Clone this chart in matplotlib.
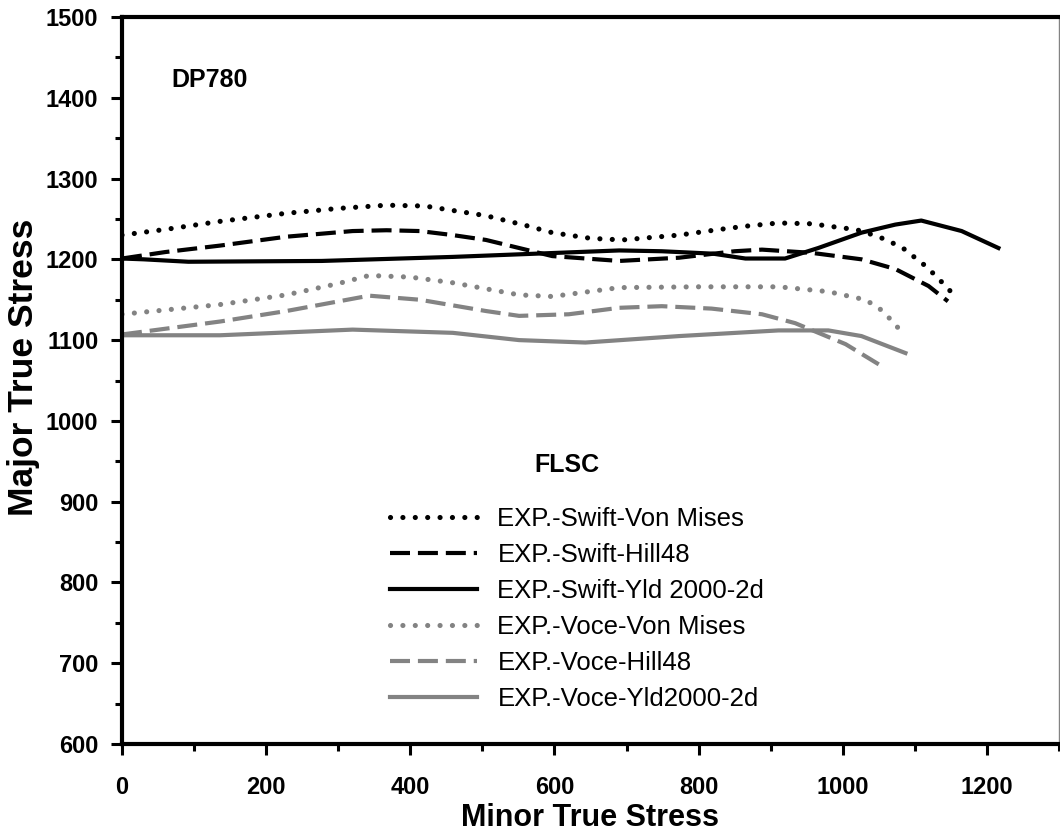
import numpy as np
import matplotlib
matplotlib.use("Agg")
import matplotlib.pyplot as plt
from matplotlib.ticker import MultipleLocator

plt.rcParams['font.family'] = ['Liberation Sans', 'DejaVu Sans']

# curves (minor stress, major stress)
swift_vm_x = [0, 60, 136, 228, 300, 367, 420, 505, 560, 597, 650, 694, 773, 829, 865, 911, 957, 998, 1018, 1050, 1082, 1116, 1133, 1150]
swift_vm_y = [1230, 1237, 1247, 1257, 1263, 1267, 1266, 1254, 1242, 1233, 1226, 1224, 1230, 1237, 1241, 1245, 1244, 1239, 1237, 1228, 1215, 1191, 1176, 1160]

swift_hill_x = [0, 60, 136, 228, 320, 367, 413, 459, 505, 551, 597, 690, 773, 850, 888, 957, 1026, 1073, 1119, 1146]
swift_hill_y = [1201, 1209, 1217, 1228, 1235, 1236, 1235, 1230, 1224, 1214, 1204, 1198, 1202, 1210, 1212, 1208, 1200, 1188, 1167, 1148]

swift_yld_x = [0, 30, 92, 277, 459, 690, 749, 820, 865, 920, 966, 1026, 1073, 1109, 1165, 1216]
swift_yld_y = [1201, 1200, 1197, 1198, 1203, 1211, 1210, 1207, 1201, 1201, 1214, 1233, 1243, 1248, 1235, 1214]

voce_vm_x = [0, 136, 228, 300, 343, 400, 459, 551, 597, 690, 800, 911, 980, 1031, 1050, 1066, 1082]
voce_vm_y = [1132, 1144, 1156, 1170, 1180, 1178, 1171, 1156, 1154, 1165, 1166, 1166, 1160, 1150, 1140, 1126, 1110]

voce_hill_x = [0, 136, 228, 343, 413, 505, 551, 620, 690, 749, 818, 888, 934, 1004, 1050]
voce_hill_y = [1107, 1123, 1136, 1155, 1150, 1136, 1130, 1132, 1140, 1142, 1139, 1132, 1121, 1095, 1070]

voce_yld_x = [0, 136, 320, 459, 551, 643, 773, 911, 980, 1026, 1087]
voce_yld_y = [1106, 1106, 1113, 1109, 1100, 1097, 1105, 1112, 1112, 1105, 1084]

labels = ['EXP.-Swift-Von Mises', 'EXP.-Swift-Hill48', 'EXP.-Swift-Yld 2000-2d',
          'EXP.-Voce-Von Mises', 'EXP.-Voce-Hill48', 'EXP.-Voce-Yld2000-2d']

gray = '#838383'
lw = 3.0
lw_dot = 3.7
dot = (0, (0.01, 2.4))
dash = (0, (4.8, 1.9))

fig = plt.figure(figsize=(10.6, 8.36), dpi=100)
ax = fig.add_axes([0.1151, 0.110, 0.8839, 0.8697])

ax.plot(swift_vm_x, swift_vm_y, color='black', lw=lw_dot, ls=dot, dash_capstyle='round', label=labels[0])
ax.plot(swift_hill_x, swift_hill_y, color='black', lw=lw, ls=dash, label=labels[1])
ax.plot(swift_yld_x, swift_yld_y, color='black', lw=lw, ls='-', label=labels[2])
ax.plot(voce_vm_x, voce_vm_y, color=gray, lw=lw_dot, ls=dot, dash_capstyle='round', label=labels[3])
ax.plot(voce_hill_x, voce_hill_y, color=gray, lw=lw, ls=dash, label=labels[4])
ax.plot(voce_yld_x, voce_yld_y, color=gray, lw=lw, ls='-', label=labels[5])

ax.set_xlim(0, 1300)
ax.set_ylim(600, 1500)
ax.xaxis.set_major_locator(MultipleLocator(200))
ax.xaxis.set_minor_locator(MultipleLocator(100))
ax.yaxis.set_major_locator(MultipleLocator(100))
ax.yaxis.set_minor_locator(MultipleLocator(50))

for s in ['left', 'bottom', 'top']:
    ax.spines[s].set_linewidth(3)
    ax.spines[s].set_color('black')
ax.spines['right'].set_linewidth(1)
ax.spines['right'].set_color(gray)

ax.tick_params(which='major', direction='out', length=8, width=2.2,
               labelsize=17, top=False, right=False)
ax.tick_params(which='minor', direction='out', length=5, width=2.2, top=False, right=False)
ax.tick_params(axis='x', which='major', pad=15)
ax.tick_params(axis='y', which='major', pad=9)
for t in ax.get_xticklabels() + ax.get_yticklabels():
    t.set_fontweight('bold')

ax.set_xlabel('Minor True Stress', fontsize=22, fontweight='bold', labelpad=3)
ax.set_ylabel('Major True Stress', fontsize=25.5, fontweight='bold')
ax.yaxis.set_label_coords(-0.0875, 0.518)

ax.text(69, 1422, 'DP780', fontsize=18, fontweight='bold', va='center', ha='left')
ax.text(572, 946, 'FLSC', fontsize=18, fontweight='bold', va='center', ha='left')

ax.legend(loc='upper left', bbox_to_anchor=(390 / 1060, (836 - 507) / 836),
          bbox_transform=fig.transFigure, frameon=False, fontsize=18.5,
          handlelength=3.4, handletextpad=0.78, labelspacing=0.47, borderpad=0,
          borderaxespad=0)

fig.savefig('out.png', dpi=100)
